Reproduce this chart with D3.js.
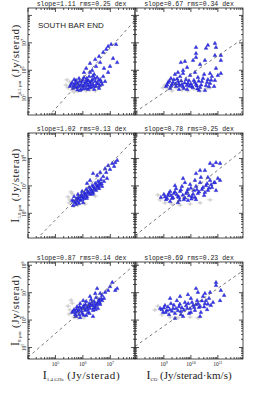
<!DOCTYPE html>
<html>
<head>
<meta charset="utf-8">
<script src="https://cdn.jsdelivr.net/npm/d3@7"></script>
<style>
body { margin: 0; background: #fff; }
svg { display: block; }
</style>
</head>
<body>
<svg id="chart" width="258" height="398"></svg>
<script>
// all values are log10 of the intensity
const xDomLeft = [4.0, 7.9];      // I 1.4 GHz
const xDomRight = [7.93, 11.93];  // I CO
const yDomRows = [[4.37, 8.27], [5.10, 8.93], [4.58, 8.12]];
const xTickLeft = [5, 6, 7];
const xTickRight = [9, 10, 11];
const yTickRows = [[5, 6, 7], [6, 7, 8], [5, 6, 7, 8]];
const rowSub = ["4.5 µm", "5.8 µm", "8 µm"];
const slopes = [[1.11, 0.67], [1.02, 0.78], [0.87, 0.69]];
const rmsVals = [[0.25, 0.34], [0.13, 0.25], [0.14, 0.23]];
const fitB = [[-0.95, -0.84], [0.66, -1.0], [1.16, -0.43]];

const blueTL = [[5.53,5.43],[5.61,5.57],[5.64,5.36],[5.72,5.50],[5.75,5.65],[5.79,5.39],[5.82,5.54],[5.86,5.72],[5.90,5.46],[5.93,5.32],[5.97,5.61],[6.01,5.43],[6.04,5.76],[6.08,5.54],[6.12,5.36],[6.15,5.65],[6.19,5.46],[6.23,5.79],[6.26,5.57],[6.30,5.39],[6.34,5.68],[6.37,5.50],[6.41,5.87],[6.45,5.61],[6.48,5.43],[6.52,5.76],[6.55,5.54],[6.59,5.36],[6.63,5.68],[6.70,5.50],[6.74,5.79],[6.81,5.61],[5.68,5.68],[5.90,5.28],[6.19,5.32],[6.41,5.32],[6.04,5.94],[6.26,5.94],[6.34,6.01],[6.48,6.16],[6.26,6.27],[6.45,6.41],[6.59,6.52],[6.63,6.30],[6.74,6.67],[6.85,6.78],[6.92,6.89],[7.03,6.96],[7.21,6.96],[7.10,6.45],[7.25,6.30],[6.77,6.09],[6.92,5.94],[6.99,6.16],[6.12,6.09],
    [5.57,5.50],[5.66,5.46],[5.74,5.57],[5.84,5.43],[5.88,5.61],[5.95,5.50],[6.00,5.68],[6.06,5.46],[6.10,5.59],[6.17,5.50],[6.21,5.63],[6.28,5.48],[6.32,5.61],[6.39,5.43],[6.43,5.72],[6.50,5.52],[6.57,5.65],[6.61,5.46],[6.67,5.59],[5.80,5.30],[6.02,5.34],[6.24,5.38],[5.70,5.40],[6.14,5.72],[6.36,5.80]];
const grayTL = [[5.39,5.46],[5.46,5.36],[5.53,5.57],[5.61,5.28],[5.72,5.43],[5.82,5.25],[5.97,5.36],[6.12,5.25],[6.26,5.28],[6.45,5.25],[6.55,5.36],[5.42,5.65],[6.63,5.43],[5.68,5.21]];

const blueTR = [[9.08,5.43],[9.15,5.57],[9.23,5.36],[9.30,5.50],[9.37,5.68],[9.45,5.43],[9.52,5.61],[9.60,5.79],[9.67,5.50],[9.74,5.36],[9.82,5.68],[9.89,5.54],[9.97,5.83],[10.04,5.43],[10.11,5.65],[10.19,5.50],[10.26,5.76],[10.34,5.39],[10.41,5.61],[10.49,5.87],[10.56,5.46],[10.63,5.68],[10.71,5.54],[10.78,5.79],[10.86,5.43],[9.41,5.87],[9.71,5.90],[10.15,5.94],[9.26,5.72],[9.86,5.32],[10.30,5.28],[9.56,5.32],[10.52,5.28],[10.89,5.65],[9.52,5.94],[9.63,6.30],[9.78,6.34],[9.71,6.01],[9.86,6.12],[10.08,6.38],[10.19,6.49],[10.19,6.63],[10.19,6.85],[10.56,6.82],[10.63,6.93],[10.89,7.00],[10.93,6.85],[10.89,6.56],[11.11,6.56],[11.11,6.38],[10.71,5.90],[10.93,6.09],[11.00,5.83],[11.11,5.90],[10.34,6.23],[10.52,6.38],
    [9.12,5.48],[9.20,5.62],[9.27,5.44],[9.34,5.58],[9.43,5.52],[9.49,5.70],[9.58,5.46],[9.64,5.63],[9.70,5.42],[9.77,5.56],[9.85,5.47],[9.93,5.64],[10.00,5.52],[10.07,5.38],[10.14,5.58],[10.22,5.45],[10.29,5.62],[10.38,5.48],[10.45,5.72],[10.60,5.58],[10.67,5.42],[10.75,5.66],[9.55,5.52],[9.95,5.44],[10.24,5.34]];
const grayTR = [[9.04,5.46],[9.15,5.32],[9.30,5.25],[9.45,5.36],[9.67,5.28],[9.89,5.25],[10.11,5.32],[10.34,5.25],[10.56,5.32],[9.23,5.65],[8.97,5.36],[10.71,5.36]];

const blueML = [[5.61,6.49],[5.68,6.63],[5.72,6.41],[5.79,6.56],[5.82,6.71],[5.90,6.49],[5.93,6.63],[5.97,6.82],[6.04,6.56],[6.08,6.71],[6.12,6.89],[6.15,6.63],[6.19,6.78],[6.23,6.96],[6.26,6.71],[6.30,6.85],[6.34,7.03],[6.37,6.78],[6.41,6.92],[6.45,7.11],[6.48,6.85],[6.52,7.00],[6.55,7.18],[6.59,6.92],[6.63,7.07],[6.66,7.25],[6.70,7.00],[5.75,6.34],[5.86,6.38],[6.01,6.41],[5.64,6.30],[6.15,7.11],[6.26,7.22],[6.37,7.47],[6.52,7.40],[6.63,7.51],[6.74,7.36],[6.81,7.65],[6.85,7.51],[6.92,7.76],[6.99,7.62],[7.07,7.84],[7.14,7.73],[7.18,7.87],[7.25,7.95],[6.77,7.18],[6.88,7.29],
    [5.66,6.45],[5.75,6.52],[5.84,6.60],[5.88,6.54],[5.95,6.70],[6.00,6.62],[6.06,6.76],[6.10,6.66],[6.17,6.82],[6.21,6.74],[6.28,6.90],[6.32,6.80],[6.39,6.98],[6.43,6.88],[6.50,7.05],[6.57,7.02],[6.61,7.14],[6.68,7.10],[5.80,6.44],[5.98,6.52],[6.14,6.56],[6.36,6.72],[6.54,6.95]];
const grayML = [[5.46,6.60],[5.53,6.49],[5.61,6.71],[5.50,6.38],[5.68,6.27],[5.57,6.78],[5.82,6.30],[6.08,6.34],[6.45,6.63]];

const blueMR = [[8.89,6.60],[9.00,6.71],[9.08,6.52],[9.15,6.67],[9.23,6.82],[9.30,6.56],[9.37,6.74],[9.45,6.92],[9.52,6.63],[9.60,6.82],[9.67,7.00],[9.74,6.52],[9.82,6.74],[9.89,6.89],[9.97,7.07],[10.04,6.63],[10.11,6.85],[10.19,7.00],[10.26,6.74],[10.34,7.14],[10.41,6.89],[10.49,6.67],[10.56,7.03],[10.63,6.85],[10.71,7.22],[10.78,6.96],[10.86,7.14],[10.93,6.85],[11.00,7.29],[9.23,6.45],[9.52,6.41],[9.89,6.49],[10.19,6.52],[9.41,7.03],[9.78,7.14],[10.15,7.22],[10.19,7.47],[10.37,7.33],[10.63,7.33],[10.89,7.14],[11.08,7.22],[10.71,7.84],[10.82,7.76],[10.93,7.87],[11.08,7.84],[10.52,7.58],[9.71,7.29],[10.34,7.58],
    [9.04,6.62],[9.12,6.56],[9.19,6.74],[9.27,6.66],[9.34,6.58],[9.41,6.80],[9.48,6.70],[9.56,6.60],[9.63,6.88],[9.70,6.68],[9.78,6.58],[9.86,6.80],[9.93,6.66],[10.00,6.94],[10.08,6.72],[10.15,6.60],[10.22,6.88],[10.30,6.80],[10.45,6.96],[10.52,6.78],[10.60,7.10],[10.67,6.94],[10.75,7.06],[9.58,6.50],[10.02,6.54]];
const grayMR = [[8.86,6.49],[9.04,6.38],[9.30,6.34],[9.60,6.30],[9.97,6.34],[10.34,6.38],[8.78,6.67],[10.71,6.49]];

const blueBL = [[5.61,6.30],[5.68,6.40],[5.72,6.22],[5.79,6.51],[5.82,6.33],[5.90,6.62],[5.93,6.44],[5.97,6.26],[6.04,6.55],[6.08,6.37],[6.12,6.70],[6.15,6.48],[6.19,6.30],[6.23,6.62],[6.26,6.44],[6.30,6.77],[6.34,6.55],[6.37,6.37],[6.41,6.70],[6.45,6.51],[6.48,6.84],[6.52,6.62],[6.55,6.44],[6.59,6.77],[6.63,6.59],[6.70,6.73],[5.75,6.15],[5.90,6.11],[6.12,6.19],[6.01,6.73],[6.26,6.88],[6.45,6.99],[6.52,7.17],[6.63,6.99],[6.70,6.92],[6.81,7.03],[6.92,7.10],[6.99,7.24],[7.07,7.39],[7.18,7.10],[7.25,7.17],[6.77,6.81],[6.37,6.15],
    [5.65,6.34],[5.74,6.30],[5.77,6.42],[5.85,6.38],[5.88,6.50],[5.95,6.34],[6.00,6.48],[6.06,6.44],[6.10,6.58],[6.17,6.40],[6.21,6.52],[6.28,6.56],[6.32,6.66],[6.39,6.46],[6.43,6.60],[6.50,6.56],[6.57,6.70],[6.61,6.66],[6.67,6.80],[5.86,6.22],[6.02,6.20],[6.24,6.26],[6.46,6.40]];
const grayBL = [[5.46,6.51],[5.53,6.37],[5.50,6.22],[5.61,6.62],[5.68,6.11],[5.82,6.08],[6.04,6.08],[5.57,6.73]];

const blueBR = [[8.86,6.44],[8.97,6.30],[9.04,6.55],[9.11,6.37],[9.19,6.22],[9.26,6.62],[9.34,6.44],[9.41,6.26],[9.48,6.73],[9.56,6.51],[9.63,6.33],[9.71,6.15],[9.78,6.66],[9.86,6.44],[9.93,6.26],[10.00,6.81],[10.08,6.55],[10.15,6.37],[10.23,6.73],[10.30,6.48],[10.37,6.30],[10.45,6.88],[10.52,6.62],[10.60,6.40],[10.67,6.81],[10.74,6.55],[10.82,6.66],[10.93,7.39],[10.93,7.28],[11.11,7.10],[10.19,7.17],[10.26,7.03],[10.71,7.03],[10.56,6.73],[11.08,6.73],[10.52,6.99],[9.23,6.81],[9.60,6.88],[9.89,6.95],[10.34,6.15],[9.41,6.08],[11.23,6.92],
    [8.92,6.40],[9.00,6.46],[9.07,6.30],[9.15,6.50],[9.22,6.40],[9.30,6.34],[9.37,6.56],[9.45,6.44],[9.52,6.36],[9.59,6.60],[9.67,6.46],[9.74,6.38],[9.82,6.54],[9.90,6.62],[9.97,6.44],[10.04,6.66],[10.12,6.48],[10.19,6.58],[10.27,6.62],[10.34,6.52],[10.41,6.72],[10.49,6.50],[10.63,6.60],[9.63,6.22],[10.00,6.30]];
const grayBR = [[8.78,6.51],[8.93,6.19],[9.23,6.11],[9.52,6.08],[9.97,6.11],[10.26,6.08],[8.67,6.37]];

const bluePts = [[blueTL, blueTR], [blueML, blueMR], [blueBL, blueBR]];
const grayPts = [[grayTL, grayTR], [grayML, grayMR], [grayBL, grayBR]];

const colX = [[28, 135], [135, 243]];
const rowY = [[8, 115], [133, 238], [262, 359]];
const serif = "'Liberation Serif', 'DejaVu Serif', serif";
const mono = "'Liberation Mono', 'DejaVu Sans Mono', monospace";

const svg = d3.select("#chart");

function powLabel(sel, e) {
    sel.append("tspan").text("10");
    sel.append("tspan").attr("dy", -2.5).attr("font-size", 4).text(e);
}

function drawTicks(g, scale, vertical, pos, dir) {
    let vals = scale.ticks();
    for (const v of vals) {
        let major = Math.abs(Math.log10(v) - Math.round(Math.log10(v))) < 1e-6;
        let len = (major ? 4 : 2) * dir;
        let p = scale(v);
        if (vertical) {
            g.append("line").attr("x1", pos).attr("x2", pos + len).attr("y1", p).attr("y2", p);
        } else {
            g.append("line").attr("x1", p).attr("x2", p).attr("y1", pos).attr("y2", pos + len);
        }
    }
}

for (let r = 0; r < 3; r++) {
    for (let c = 0; c < 2; c++) {
        let xd = c == 0 ? xDomLeft : xDomRight;
        let x = d3.scaleLog().domain(xd.map(v => 10 ** v)).range(colX[c]);
        let y = d3.scaleLog().domain(yDomRows[r].map(v => 10 ** v)).range([rowY[r][1], rowY[r][0]]);
        let [x0, x1] = colX[c];
        let [y0, y1] = rowY[r];

        let id = "clip" + r + c;
        svg.append("clipPath").attr("id", id)
            .append("rect").attr("x", x0).attr("y", y0).attr("width", x1 - x0).attr("height", y1 - y0);
        let g = svg.append("g").attr("clip-path", `url(#${id})`);

        // gray error crosses
        let gray = g.append("g").attr("stroke", "#b8b8b8").attr("stroke-width", 1).attr("opacity", 0.8);
        for (const d of grayPts[r][c]) {
            let px = x(10 ** d[0]), py = y(10 ** d[1]);
            gray.append("line").attr("x1", px - 2.5).attr("x2", px + 2.5).attr("y1", py).attr("y2", py);
            gray.append("line").attr("x1", px).attr("x2", px).attr("y1", py - 2).attr("y2", py + 2);
        }

        // blue triangles
        g.selectAll("path.pt")
            .data(bluePts[r][c])
            .enter()
            .append("path")
            .classed("pt", true)
            .attr("d", d3.symbol(d3.symbolTriangle, 6))
            .attr("transform", d => `translate(${x(10 ** d[0])},${y(10 ** d[1]) + 0.5})`)
            .attr("fill", "#3535f5")
            .attr("stroke", "#1a1aa8")
            .attr("stroke-width", 0.4);

        // fitted line
        let m = slopes[r][c], b = fitB[r][c];
        g.append("line")
            .attr("x1", x(10 ** xd[0])).attr("y1", y(10 ** (m * xd[0] + b)))
            .attr("x2", x(10 ** xd[1])).attr("y2", y(10 ** (m * xd[1] + b)))
            .attr("stroke", "#555").attr("stroke-width", 0.8)
            .attr("stroke-dasharray", "3,3");

        // frame and ticks
        let axes = svg.append("g").attr("stroke", "#222").attr("stroke-width", 0.8).attr("fill", "none");
        axes.append("rect").attr("x", x0).attr("y", y0).attr("width", x1 - x0).attr("height", y1 - y0);
        drawTicks(axes, x, false, y1, -1);
        drawTicks(axes, x, false, y0, 1);
        drawTicks(axes, y, true, x0, 1);
        drawTicks(axes, y, true, x1, -1);

        // slope label
        svg.append("text")
            .attr("x", (x0 + x1) / 2)
            .attr("y", y0 - 2.5)
            .attr("text-anchor", "middle")
            .attr("font-family", mono)
            .attr("font-size", 6.5)
            .attr("fill", "#222")
            .text(`slope=${slopes[r][c].toFixed(2)} rms=${rmsVals[r][c].toFixed(2)} dex`);

        if (c == 0) {
            for (const e of yTickRows[r]) {
                let t = svg.append("text")
                    .attr("transform", `translate(26,${y(10 ** e)}) rotate(-90)`)
                    .attr("text-anchor", "middle")
                    .attr("font-family", serif)
                    .attr("font-size", 5.5)
                    .attr("fill", "#222");
                powLabel(t, e);
            }
        }
        if (r == 2) {
            let xt = c == 0 ? xTickLeft : xTickRight;
            for (const e of xt) {
                let t = svg.append("text")
                    .attr("x", x(10 ** e))
                    .attr("y", 366)
                    .attr("text-anchor", "middle")
                    .attr("font-family", serif)
                    .attr("font-size", 5.5)
                    .attr("fill", "#222");
                powLabel(t, e);
            }
        }
    }
}

// row titles
for (let r = 0; r < 3; r++) {
    let t = svg.append("text")
        .attr("transform", `translate(19,${(rowY[r][0] + rowY[r][1]) / 2}) rotate(-90)`)
        .attr("text-anchor", "middle")
        .attr("font-family", serif)
        .attr("fill", "#222");
    t.append("tspan").attr("font-size", 12).text("I");
    t.append("tspan").attr("font-size", 5).attr("dy", 2).text(rowSub[r]);
    t.append("tspan").attr("font-size", 11).attr("dy", -2).attr("letter-spacing", 0.6).text(" (Jy/sterad)");
}

// column titles
const colTitle = [["1.4 GHz", " (Jy/sterad)"], ["CO", " (Jy/sterad·km/s)"]];
for (let c = 0; c < 2; c++) {
    let t = svg.append("text")
        .attr("x", (colX[c][0] + colX[c][1]) / 2)
        .attr("y", 379)
        .attr("text-anchor", "middle")
        .attr("font-family", serif)
        .attr("fill", "#222");
    t.append("tspan").attr("font-size", 12).text("I");
    t.append("tspan").attr("font-size", 5).attr("dy", 2).text(colTitle[c][0]);
    t.append("tspan").attr("font-size", 11).attr("dy", -2).attr("letter-spacing", c == 0 ? 0.6 : 0).text(colTitle[c][1]);
}

svg.append("text")
    .attr("x", 38).attr("y", 28)
    .attr("font-family", "'Liberation Sans', Arial, sans-serif")
    .attr("font-size", 8)
    .attr("fill", "#222")
    .text("SOUTH BAR END");
</script>
</body>
</html>
